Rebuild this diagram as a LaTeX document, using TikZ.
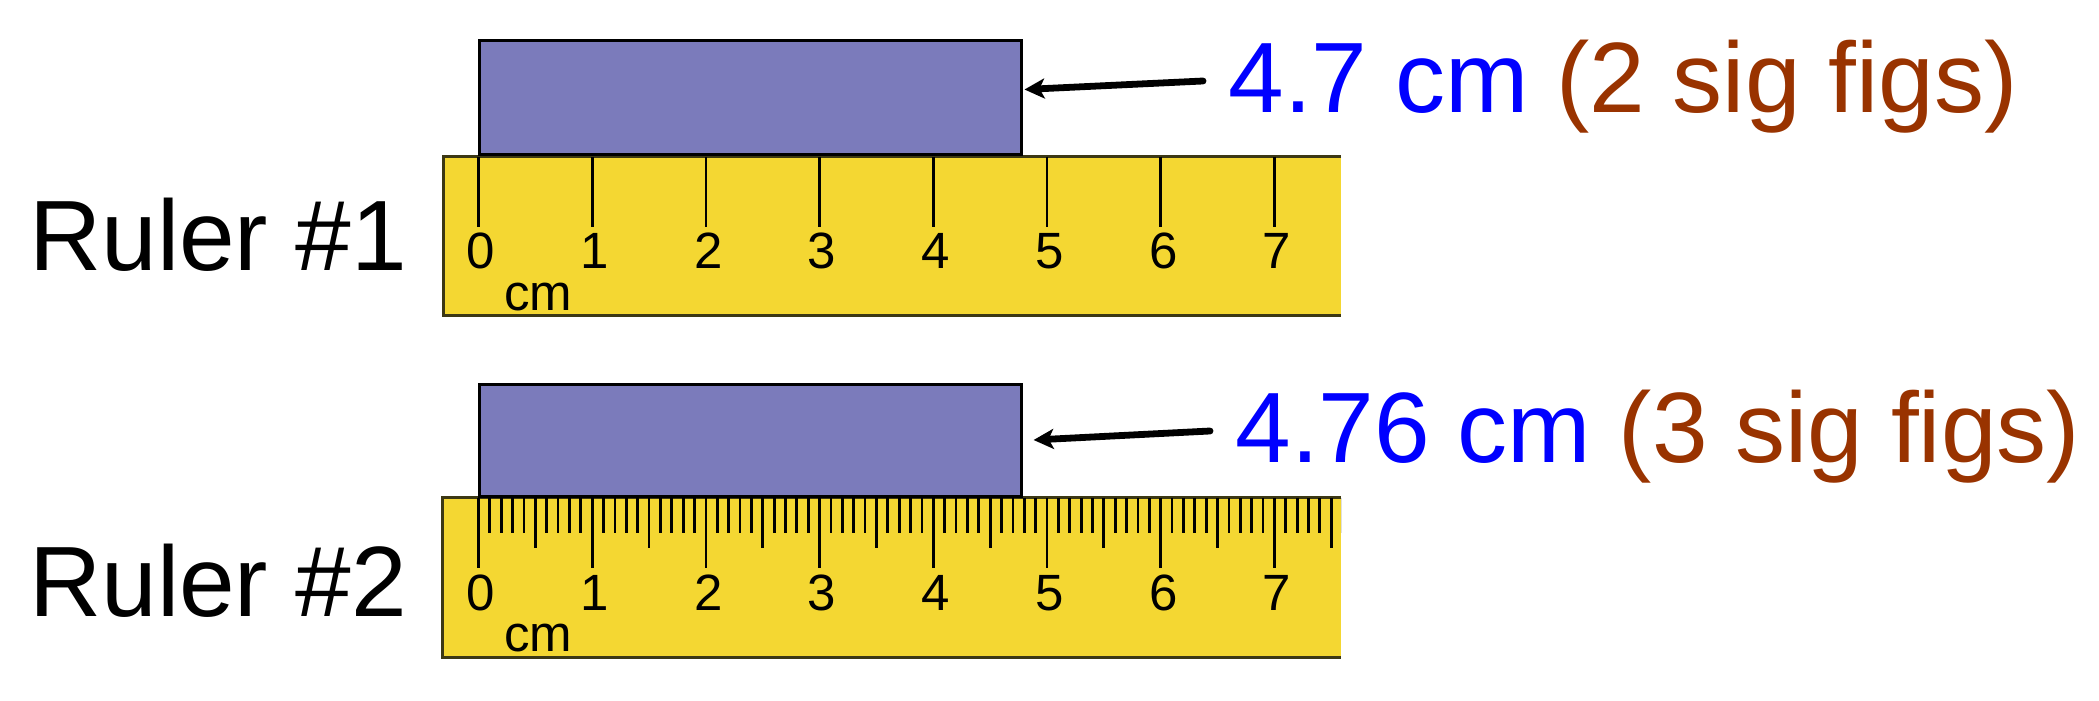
\documentclass[tikz,border=0pt]{standalone}
\usepackage{fontspec}
\setmainfont{Liberation Sans}
\usetikzlibrary{arrows.meta}
\definecolor{blockfill}{RGB}{123,123,187}
\definecolor{rulerfill}{RGB}{244,215,50}
\definecolor{rulerline}{RGB}{60,56,20}
\definecolor{sigbrown}{RGB}{153,51,0}
\definecolor{valblue}{RGB}{0,0,255}
\begin{document}
\begin{tikzpicture}[x=0.5pt,y=-0.5pt,
  blockbox/.style={draw=black, line width=1.5pt, fill=blockfill, inner sep=0pt, anchor=south west},
  rulerbody/.style={fill=rulerfill},
  ruleredge/.style={draw=rulerline, line width=1.5pt},
  tickline/.style={draw=black, line width=1.4pt},
  digit/.style={anchor=base, inner sep=0pt, font=\fontsize{25.5pt}{25.5pt}\selectfont},
  unitlabel/.style={anchor=base west, inner sep=0pt, font=\fontsize{25.5pt}{25.5pt}\selectfont},
  rulername/.style={anchor=base west, inner sep=0pt, font=\fontsize{50pt}{50pt}\selectfont},
  measure/.style={anchor=base west, inner sep=0pt, font=\fontsize{50pt}{50pt}\selectfont},
  pointer/.style={-{Stealth[length=10pt,width=10pt,inset=2.5pt]}, line width=3.4pt, line cap=round},
]
\useasboundingbox (0,0) rectangle (2099,701);

% ---------- Ruler #1 ----------
\fill[rulerbody] (443,156.7) rectangle (1341,315);
\draw[ruleredge] (1341,156.7) -- (443,156.7) -- (443,315) -- (1341,315);
\foreach \k in {0,...,7} {
  \draw[tickline] (478.5+113.7*\k,156.7) -- ++(0,70);
  \node[digit] (d1-\k) at (481+113.7*\k,268.3) {\k};
}
\node[unitlabel] (cm1) at (504,310) {cm};
\node[blockbox, minimum width=271pt, minimum height=57pt] (block1) at (478,156.5) {};
\node[rulername] (name1) at (29,270.7) {Ruler \#1};
\node[measure] (val1) at (1228,112.7) {\textcolor{valblue}{4.7 cm} \textcolor{sigbrown}{(2 sig figs)}};
\coordinate (tail1) at (1203,81);
\coordinate (tip1) at (1024.5,89.5);
\draw[pointer] (tail1) -- (tip1);

% ---------- Ruler #2 ----------
\fill[rulerbody] (442,497.7) rectangle (1341,657);
\draw[ruleredge] (1341,497.7) -- (442,497.7) -- (442,657) -- (1341,657);
\begin{scope}
  \clip (442,490) rectangle (1341,660);
  \foreach \k in {0,...,76} {
    \pgfmathsetmacro\tl{mod(\k,10)==0 ? 70 : (mod(\k,5)==0 ? 50 : 35)}
    \draw[tickline] (478.5+11.37*\k,497.7) -- ++(0,\tl);
  }
\end{scope}
\foreach \k in {0,...,7} {
  \node[digit] (d2-\k) at (481+113.7*\k,610) {\k};
}
\node[unitlabel] (cm2) at (504,651) {cm};
\node[blockbox, minimum width=271pt, minimum height=56pt] (block2) at (478,498) {};
\node[rulername] (name2) at (29,616) {Ruler \#2};
\node[measure] (val2) at (1235,462.7) {\textcolor{valblue}{4.76 cm} \textcolor{sigbrown}{(3 sig figs)}};
\coordinate (tail2) at (1210,431);
\coordinate (tip2) at (1033.6,440);
\draw[pointer] (tail2) -- (tip2);
\end{tikzpicture}
\end{document}
